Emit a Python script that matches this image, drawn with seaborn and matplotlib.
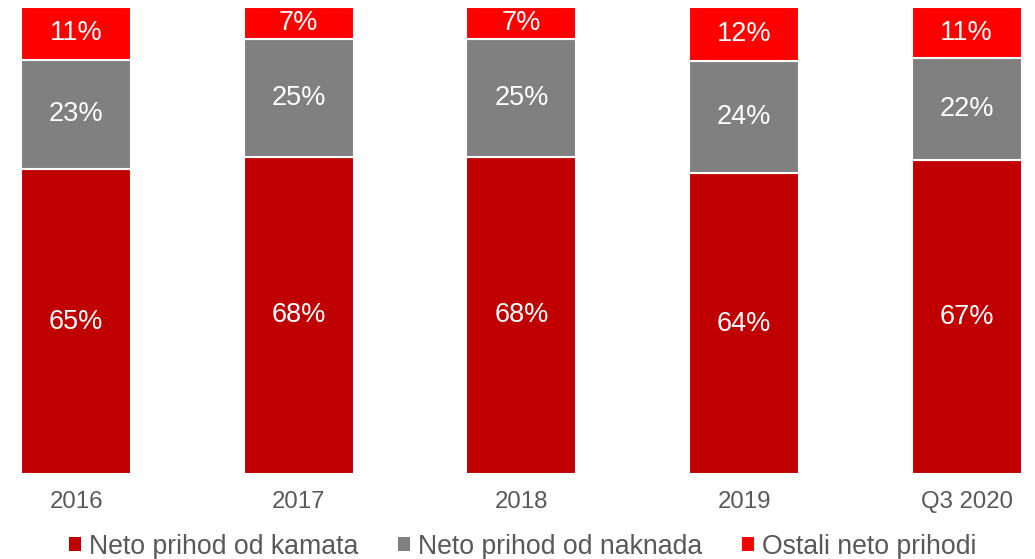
import matplotlib
matplotlib.use("Agg")
import matplotlib.pyplot as plt
import seaborn as sns
import pandas as pd
from matplotlib.patches import Patch

sns.set_style("white")
plt.rcParams['font.family'] = ['Liberation Sans', 'DejaVu Sans']

# data (share of total net income, %)
periods = ['2016', '2017', '2018', '2019', 'Q3 2020']
kamata = [65.3, 68.0, 68.0, 64.5, 67.3]
naknada = [23.5, 25.2, 25.2, 23.9, 21.8]
ostali = [11.2, 6.8, 6.8, 11.6, 10.9]
kamata_lbl = ['65%', '68%', '68%', '64%', '67%']
naknada_lbl = ['23%', '25%', '25%', '24%', '22%']
ostali_lbl = ['11%', '7%', '7%', '12%', '11%']
series_names = ['Neto prihod od kamata', 'Neto prihod od naknada', 'Ostali neto prihodi']
colors = ['#C00000', '#808080', '#FF0000']

df = pd.DataFrame({'period': periods, 'kamata': kamata, 'naknada': naknada, 'ostali': ostali})
bottom2 = df['kamata']
bottom3 = df['kamata'] + df['naknada']

fig = plt.figure(figsize=(10.35, 5.59), dpi=100)
ax = fig.add_axes([0, 0.152, 1, 0.835])

sns.barplot(data=df, x='period', y='kamata', color=colors[0], width=0.495,
            edgecolor='white', linewidth=1.5, ax=ax, saturation=1)
sns.barplot(data=df, x='period', y='naknada', bottom=bottom2, color=colors[1], width=0.495,
            edgecolor='white', linewidth=1.5, ax=ax, saturation=1)
sns.barplot(data=df, x='period', y='ostali', bottom=bottom3, color=colors[2], width=0.495,
            edgecolor='white', linewidth=1.5, ax=ax, saturation=1)

for cont, lbls in zip(ax.containers, [kamata_lbl, naknada_lbl, ostali_lbl]):
    ax.bar_label(cont, labels=lbls, label_type='center', color='white', fontsize=19.5)

ax.set_xlim(-0.342, 4.307)
ax.set_ylim(0, 100)
ax.set_xlabel('')
ax.set_ylabel('')
ax.set_yticks([])
for s in ax.spines.values():
    s.set_visible(False)
ax.tick_params(axis='x', length=0, pad=12, labelsize=17.3, labelcolor='#595959')

handles = [Patch(facecolor=c, edgecolor='none') for c in colors]
fig.legend(handles, series_names, loc='center', bbox_to_anchor=(0.505, 0.022), ncol=3,
           frameon=False, fontsize=19.2, labelcolor='#595959', handlelength=0.45,
           handleheight=0.45, handletextpad=0.3, columnspacing=1.5,
           borderpad=0, borderaxespad=0)

fig.savefig('out.png', dpi=100)
